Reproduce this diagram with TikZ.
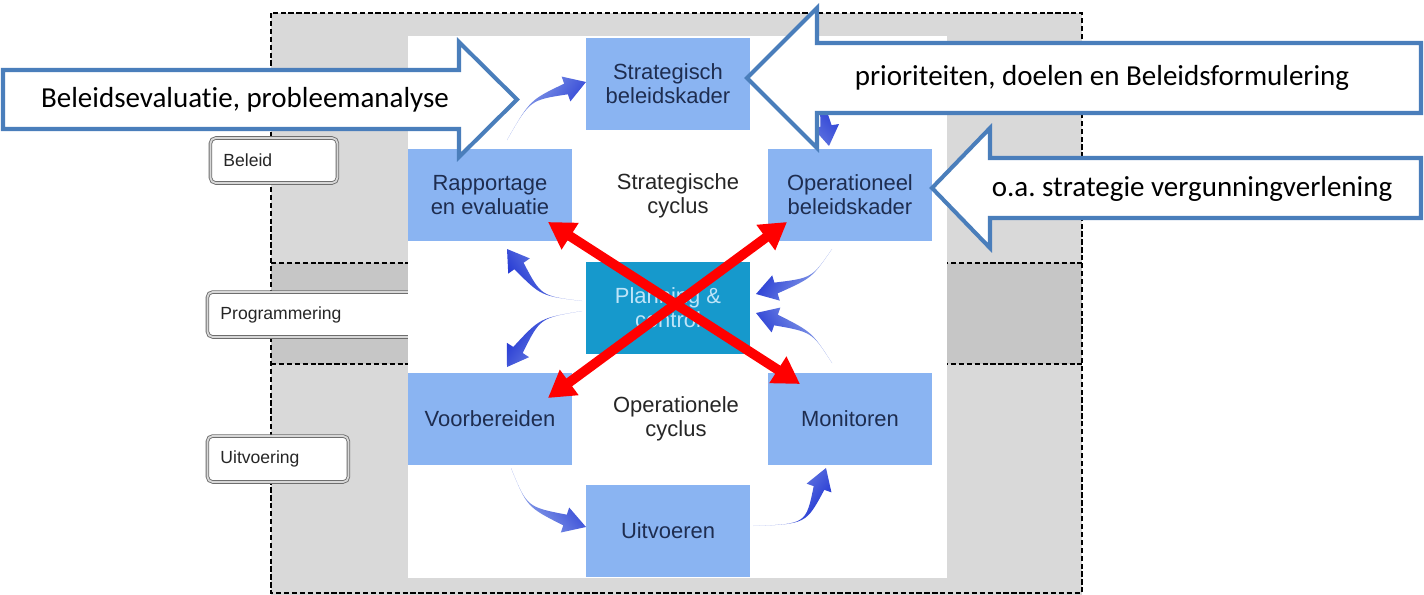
\documentclass[tikz,border=0pt]{standalone}
\usepackage{fontspec}
\setmainfont{Liberation Sans}
\newfontfamily\calib[Ligatures={NoCommon}]{Carlito}
\usetikzlibrary{calc,arrows.meta}
\frenchspacing
\definecolor{boxblue}{RGB}{138,180,242}
\definecolor{pcteal}{RGB}{22,153,204}
\definecolor{pctext}{RGB}{190,228,248}
\definecolor{boxtext}{RGB}{30,45,80}
\definecolor{bandlight}{RGB}{217,217,217}
\definecolor{banddark}{RGB}{198,198,198}
\definecolor{bigblue}{RGB}{74,126,187}
\definecolor{cyclight}{RGB}{150,172,235}
\definecolor{cycdark}{RGB}{30,50,210}
\definecolor{xred}{RGB}{255,0,0}
\definecolor{lblborder}{RGB}{110,110,110}
\definecolor{lbldouble}{RGB}{215,215,215}
\tikzset{
  box/.style={fill=boxblue, minimum width=3.28cm, minimum height=1.86cm, inner sep=0pt,
    align=center, font=\fontsize{12.5}{13.5}\selectfont, text=boxtext},
  cyctext/.style={align=center, font=\fontsize{12.5}{13.5}\selectfont, text=black!85},
  lbl/.style={rounded corners=3pt, draw=lblborder, line width=0.5pt, double=lbldouble,
    double distance=1pt, fill=white, anchor=west, font=\fontsize{10}{12}\selectfont,
    text=black!85, align=left, inner xsep=0.26cm, inner ysep=0pt},
  bigarrow/.style={draw=bigblue, line width=2.3pt, fill=white, line join=miter},
  bigtxt/.style={font=\calib\fontsize{16.5}{19}\selectfont, text=black},
  redarrow/.style={draw=xred, line width=5.5pt, {Triangle[length=15pt,width=17pt]}-{Triangle[length=15pt,width=17pt]}},
  dashline/.style={draw=black, line width=0.7pt, dash pattern=on 3pt off 1.5pt}
}
\newcommand\cyclearrow[5]{%
  \shade[left color=cyclight, right color=cycdark, shading angle=#5]
    (#1) .. controls (#4) .. ($(#2)!3.2pt!90:(#3)$) -- ($(#2)!7.5pt!90:(#3)$) -- (#3)
    -- ($(#2)!7.5pt!-90:(#3)$) -- ($(#2)!3.2pt!-90:(#3)$) .. controls (#4) .. (#1) -- cycle;}
\begin{document}
\begin{tikzpicture}[x=0.02cm,y=-0.02cm]
\fill[white] (0,0) rectangle (1424,595);
\useasboundingbox (0,0) rectangle (1424,595);
% bands
\fill[bandlight] (271,13) rectangle (1082,263);
\fill[banddark] (271,263) rectangle (1082,364);
\fill[bandlight] (271,364) rectangle (1082,595);
\draw[dashline] (271,13) rectangle (1082,593);
\draw[dashline] (271,263) -- (1082,263);
\draw[dashline] (271,364) -- (1082,364);
% labels
\node[lbl, minimum width=2.54cm, minimum height=0.9cm, text width=2.02cm] (lbeleid) at (210,160.5) {Beleid};
\node[lbl, minimum width=4.26cm, minimum height=0.9cm, text width=3.74cm] (lprog) at (207,314.5) {Programmering};
\node[lbl, minimum width=2.82cm, minimum height=0.92cm, text width=2.30cm] (luitv) at (207,459) {Uitvoering};
% white panel
\fill[white] (408,36) rectangle (947,578);
% boxes
\node[box] (strat) at (668,84) {Strategisch\\beleidskader};
\node[box] (rap) at (490,195) {Rapportage\\en evaluatie};
\node[box] (oper) at (850,195) {Operationeel\\beleidskader};
\node[box, fill=pcteal, text=pctext] (plan) at (668,308) {Planning \&\\control};
\node[box] (voor) at (490,419) {Voorbereiden};
\node[box] (mon) at (850,419) {Monitoren};
\node[box] (uitv) at (668,531) {Uitvoeren};
\node[cyctext] (scyc) at (678,196) {Strategische\\cyclus};
\node[cyctext] (ocyc) at (676,419) {Operationele\\cyclus};
% cycle arrows
\coordinate (a1t) at (507,140); \coordinate (a1h) at (566,89); \coordinate (a1p) at (586,82); \coordinate (a1c) at (530,100);
\coordinate (a2t) at (754,80); \coordinate (a2h) at (826,126); \coordinate (a2p) at (829,146); \coordinate (a2c) at (820,90);
\coordinate (a3t) at (832,249); \coordinate (a3h) at (776,288); \coordinate (a3p) at (756,294); \coordinate (a3c) at (812,278);
\coordinate (a4t) at (832,363); \coordinate (a4h) at (776,320); \coordinate (a4p) at (756,313); \coordinate (a4c) at (812,332);
\coordinate (a5t) at (582,301); \coordinate (a5h) at (519,266); \coordinate (a5p) at (507,249); \coordinate (a5c) at (541,296);
\coordinate (a6t) at (582,311); \coordinate (a6h) at (518,350); \coordinate (a6p) at (507,367); \coordinate (a6c) at (540,318);
\coordinate (a7t) at (511,468); \coordinate (a7h) at (565,520); \coordinate (a7p) at (586,527); \coordinate (a7c) at (527,507);
\coordinate (a8t) at (753,526); \coordinate (a8h) at (819,488); \coordinate (a8p) at (826,468); \coordinate (a8c) at (806,524);
\cyclearrow{a1t}{a1h}{a1p}{a1c}{55}
\cyclearrow{a2t}{a2h}{a2p}{a2c}{131}
\cyclearrow{a3t}{a3h}{a3p}{a3c}{240}
\cyclearrow{a4t}{a4h}{a4p}{a4c}{-57}
\cyclearrow{a5t}{a5h}{a5p}{a5c}{-56}
\cyclearrow{a6t}{a6h}{a6p}{a6c}{234}
\cyclearrow{a7t}{a7h}{a7p}{a7c}{128}
\cyclearrow{a8t}{a8h}{a8p}{a8c}{52}
% big hollow arrows
\draw[bigarrow] (3,70) -- (459,70) -- (459,42) -- (517,99.5) -- (459,157) -- (459,129) -- (3,129) -- cycle;
\node[bigtxt] (t1) at (245,100) {Beleidsevaluatie, probleemanalyse};
\draw[bigarrow] (1421,43) -- (817,43) -- (817,8) -- (747,78) -- (817,148) -- (817,113) -- (1421,113) -- cycle;
\node[bigtxt] (t2) at (1102,78) {prioriteiten, doelen en Beleidsformulering};
\draw[bigarrow] (1421,158) -- (990,158) -- (990,128) -- (932,188) -- (990,248) -- (990,218) -- (1421,218) -- cycle;
\node[bigtxt] (t3) at (1192,189) {o.a. strategie vergunningverlening};
% red cross arrows
\coordinate (ra1) at (548,222); \coordinate (ra2) at (800,384);
\coordinate (rb1) at (787,222); \coordinate (rb2) at (548,398);
\draw[redarrow] (ra1) -- (ra2);
\draw[redarrow] (rb1) -- (rb2);
\end{tikzpicture}
\end{document}
